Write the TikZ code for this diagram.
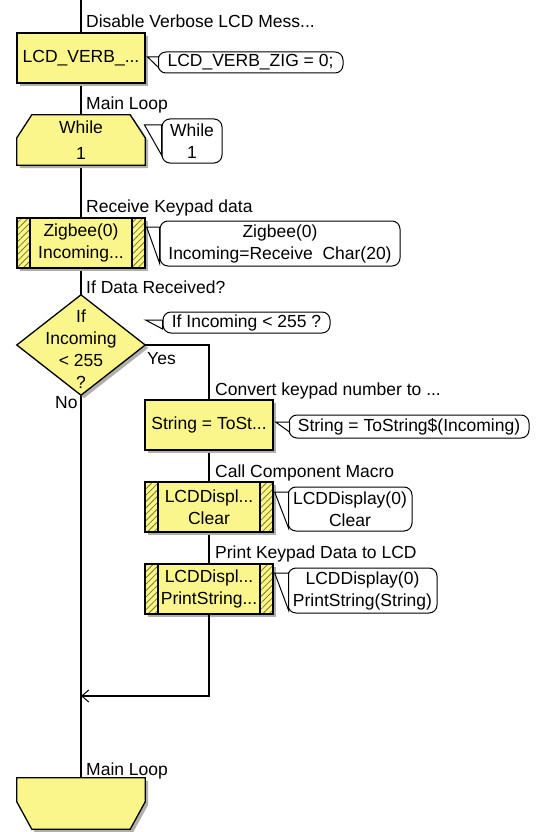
\documentclass[tikz,border=0pt]{standalone}
\usepackage{fontspec}
\setmainfont{Liberation Sans}
\usetikzlibrary{shadows,patterns.meta,arrows.meta,calc}
\definecolor{fcyellow}{RGB}{250,246,140}
\definecolor{fchatch}{RGB}{130,120,35}
\definecolor{fcshadow}{RGB}{175,175,175}
\pgfdeclarelayer{wires}
\pgfdeclarelayer{shapes}
\pgfsetlayers{wires,shapes,main}

\begin{document}
\begin{tikzpicture}[x=1pt,y=-1pt,
  font=\fontsize{17.5}{22}\selectfont,
  flow/.style={line width=1.3pt,draw=black},
  boxshadow/.style={drop shadow={shadow xshift=3pt,shadow yshift=-3pt,fill=fcshadow,opacity=1}},
  outline/.style={line width=1.3pt,draw=black,fill=fcyellow,boxshadow},
  action/.style={rectangle,outline,minimum width=128pt,minimum height=50pt,
    inner sep=0pt,align=center},
  frame/.style={rectangle,minimum width=128pt,minimum height=50pt,inner sep=0pt,align=center},
  callbox/.style={action,path picture={
    \path[pattern={Lines[angle=45,distance=4.5pt,line width=0.8pt]},pattern color=fchatch]
      (path picture bounding box.north west) rectangle ([xshift=13pt]path picture bounding box.south west)
      ([xshift=-13pt]path picture bounding box.north east) rectangle (path picture bounding box.south east);
    \draw[line width=1.2pt]
      ([xshift=13pt]path picture bounding box.north west) -- ([xshift=13pt]path picture bounding box.south west)
      ([xshift=-13pt]path picture bounding box.north east) -- ([xshift=-13pt]path picture bounding box.south east);
  }},
  note/.style={rectangle,rounded corners=8pt,draw=black,line width=1pt,fill=white,
    inner sep=0pt,align=center},
  pointer/.style={draw=black,line width=1pt,fill=white,line join=miter},
  label/.style={anchor=base west,inner sep=0pt},
  joinarrow/.style={-{Straight Barb[length=7pt,width=12pt,line width=1pt]}}
]
\useasboundingbox (0,0) rectangle (539,832);

% ---- flowchart blocks ----
\node[action] (verb) at (81,58) {LCD\_VERB\_...};
\node[frame] (while) at (81,140) {While\\[4pt]1};
\node[callbox] (zig) at (81,243) {Zigbee(0)\\Incoming...};
\node[frame,minimum height=100pt] (dec) at (81,345) {\\[-2pt]If\\Incoming\\\textless{} 255\\?};
\node[action] (str) at (209,425) {String = ToSt...};
\node[callbox] (clr) at (209,507) {LCDDispl...\\Clear};
\node[callbox] (prt) at (209,589) {LCDDispl...\\PrintString...};
\node[frame,minimum height=51pt] (endl) at (81,803.5) {};

\coordinate (top) at (81,0);
\coordinate (bottom) at (81,832);
\coordinate (join) at (81,696);

% loop and decision outlines
\begin{pgfonlayer}{shapes}
\path[outline] ($(while.north west)+(15,0)$) -- ($(while.north east)+(-15,0)$)
  -- ($(while.north east)+(0,23)$) -- (while.south east) -- (while.south west)
  -- ($(while.north west)+(0,23)$) -- cycle;
\path[outline] (dec.north) -- (dec.east) -- (dec.south) -- (dec.west) -- cycle;
\path[outline] (endl.north west) -- (endl.north east) -- ($(endl.north east)+(0,24)$)
  -- ($(endl.south east)+(-15,0)$) -- ($(endl.south west)+(15,0)$)
  -- ($(endl.north west)+(0,24)$) -- cycle;
\end{pgfonlayer}

% ---- connectors ----
\begin{pgfonlayer}{wires}
\draw[flow] (top) -- (verb.north);
\draw[flow] (verb.south) -- (while.north);
\draw[flow] (while.south) -- (zig.north);
\draw[flow] (zig.south) -- (dec.north);
\draw[flow] (dec.south) -- (endl.north);
\draw[flow] (endl.south) -- (bottom);
\draw[flow] (dec.east) -| (str.north);
\draw[flow] (str.south) -- (clr.north);
\draw[flow] (clr.south) -- (prt.north);
\end{pgfonlayer}
\draw[flow,joinarrow] (prt.south) |- (join);

% ---- step captions ----
\node[label] (c1) at (86,28) {Disable Verbose LCD Mess...};
\node[label] (c2) at (86,110) {Main Loop};
\node[label] (c3) at (86,212) {Receive Keypad data};
\node[label] (c4) at (86,293) {If Data Received?};
\node[label] (c5) at (215,395) {Convert keypad number to ...};
\node[label] (c6) at (215,477) {Call Component Macro};
\node[label] (c7) at (215,558) {Print Keypad Data to LCD};
\node[label] (c8) at (86,775) {Main Loop};
\node[label] (yes) at (147,364) {Yes};
\node[label] (no) at (55,408) {No};

% ---- comment bubbles ----
\node[note,minimum width=185pt,minimum height=21pt] (n1) at (250.5,62.5) {LCD\_VERB\_ZIG = 0;};
\node[note,minimum width=60pt,minimum height=44pt] (n2) at (192,141) {While\\1};
\node[note,minimum width=240pt,minimum height=45pt] (n3) at (280,243.5) {Zigbee(0)\\Incoming=Receive\ \ Char(20)};
\node[note,minimum width=167pt,minimum height=21pt] (n4) at (246.5,322.5) {If Incoming \textless{} 255 ?};
\node[note,minimum width=240pt,minimum height=23pt] (n5) at (409,426.5) {String = ToString\$(Incoming)};
\node[note,minimum width=124pt,minimum height=44pt] (n6) at (350,509) {LCDDisplay(0)\\Clear};
\node[note,minimum width=149pt,minimum height=45pt] (n7) at (362.5,590.5) {LCDDisplay(0)\\PrintString(String)};

% bubble pointers
\draw[pointer] ($(verb.east)+(2,-1)$) -- ($(n1.west)+(1,-5.5)$) -- ($(n1.west)+(1,5)$) -- cycle;
\draw[pointer] ($(n2.west)+(-17,-16)$) -- ($(n2.west)+(0,-16)$) -- ($(n2.west)+(0,14)$) -- cycle;
\draw[pointer] ($(zig.east)+(1,-16)$) -- ($(n3.west)+(0,-16.5)$) -- ($(n3.west)+(0,19.5)$) -- cycle;
\draw[pointer] ($(n4.west)+(-17,-2.5)$) -- ($(n4.west)+(0,-2.5)$) -- ($(n4.west)+(0,6.5)$) -- cycle;
\draw[pointer] ($(str.east)+(2,-3)$) -- ($(n5.west)+(1,-4.5)$) -- ($(n5.west)+(1,5.5)$) -- cycle;
\draw[pointer] ($(clr.east)+(1,-15)$) -- ($(n6.west)+(1,-17)$) -- ($(n6.west)+(1,19)$) -- cycle;
\draw[pointer] ($(prt.east)+(1,-16)$) -- ($(n7.west)+(1,-17.5)$) -- ($(n7.west)+(1,19.5)$) -- cycle;
\end{tikzpicture}
\end{document}
